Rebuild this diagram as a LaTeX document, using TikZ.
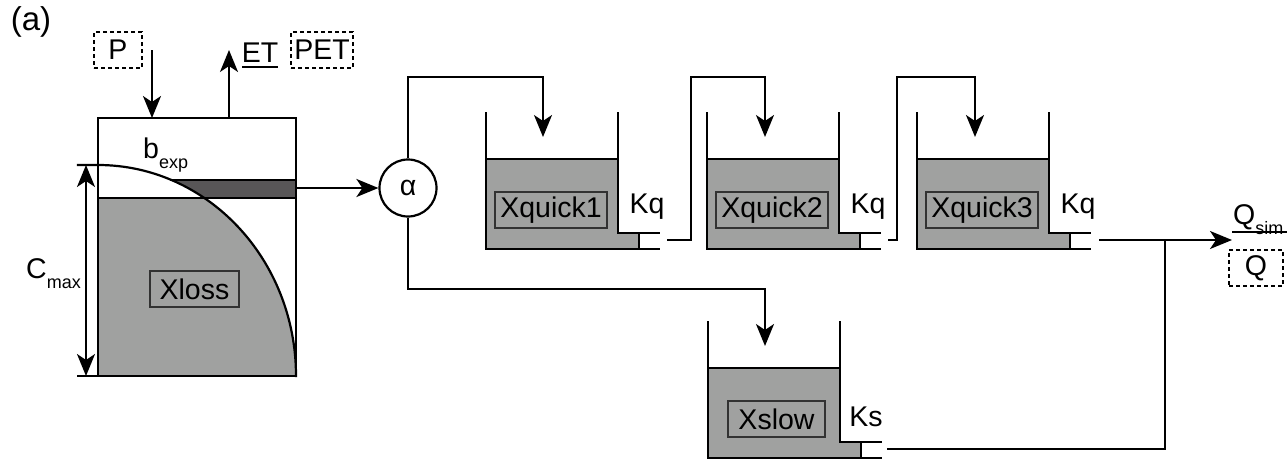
\documentclass[tikz,border=0pt]{standalone}
\usepackage{fontspec}
\setmainfont{Liberation Sans}
\usetikzlibrary{arrows.meta}
\definecolor{fillgrey}{RGB}{160,161,160}
\definecolor{bargrey}{RGB}{88,86,87}
\definecolor{boxline}{RGB}{50,50,50}
\newcommand{\bigtxt}{\fontsize{28.5}{31}\selectfont}
\newcommand{\subtxt}{\fontsize{18}{19}\selectfont}
\tikzset{
  ln/.style={line width=2.2pt, line cap=rect},
  arr/.style={line width=2.2pt, -{Stealth[length=22pt,width=18pt,inset=6pt]}},
  dblarr/.style={line width=2.2pt, {Stealth[length=22pt,width=18pt,inset=6pt]}-{Stealth[length=22pt,width=18pt,inset=6pt]}},
  lbl/.style={font=\bigtxt, inner sep=0pt},
  statebox/.style={draw=boxline, line width=2.2pt, font=\bigtxt, inner sep=0pt, minimum height=36pt},
  dbox/.style={draw, line width=2.2pt, dash pattern=on 4pt off 3pt, font=\bigtxt, inner sep=0pt, minimum height=36pt},
  tank/.pic={
    \fill[fillgrey] (0,46) rectangle (132,136);
    \fill[fillgrey] (132,120) rectangle (153,136);
    \draw[ln] (0,0) -- (0,136) -- (173,136);
    \draw[ln] (132,0) -- (132,120) -- (173,120);
    \draw[ln] (153,120) -- (153,136);
    \draw[ln] (0,46) -- (132,46);
  }
}
\begin{document}
\begin{tikzpicture}[x=1pt,y=-1pt]
\useasboundingbox (0,0) rectangle (1287,458);
% label
\node[font=\fontsize{33}{35}\selectfont, inner sep=0pt] (lab) at (31,22) {(a)};
% ---- soil store ----
\begin{scope}
  \clip (98,198) rectangle (296,376);
  \fill[fillgrey] (98,376) -- (98,165) arc[start angle=90, end angle=0, x radius=198pt, y radius=211pt] -- cycle;
\end{scope}
\begin{scope}
  \clip (98,180) rectangle (296,198);
  \fill[bargrey] (98,165) arc[start angle=90, end angle=0, x radius=198pt, y radius=211pt] -- (296,165) -- cycle;
\end{scope}
\node[draw, line width=2.2pt, minimum width=198pt, minimum height=258pt, inner sep=0pt] (store) at (197,247) {};
\draw[ln] (78,165) -- (98,165) arc[start angle=90, end angle=0, x radius=198pt, y radius=211pt];
\draw[ln] (78,376) -- (296,376);
\draw[ln] (98,198) -- (296,198);
\draw[ln] (171.3,180) -- (296,180);
\coordinate (cmaxtop) at (86,165);
\coordinate (cmaxbot) at (86,376);
\draw[dblarr] (cmaxtop) -- (cmaxbot);
\node[lbl, anchor=base east] (cmax) at (81,278) {C\raisebox{-10pt}{\subtxt max}};
\node[lbl, anchor=base west] (bexp) at (143,158) {b\raisebox{-10pt}{\subtxt exp}};
\node[statebox, minimum width=89pt] (xloss) at (194.5,289) {Xloss};
% inputs
\node[dbox, minimum width=48pt] (P) at (118,50) {P};
\coordinate (Pin) at (152,118);
\draw[arr] (152,50) -- (Pin);
\coordinate (ETout) at (229,118);
\coordinate (ETtip) at (229,50);
\draw[arr] (ETout) -- (ETtip);
\node[lbl] (ET) at (260,53) {ET};
\draw[ln, line cap=butt] (242,67) -- (278,67);
\node[dbox, minimum width=62pt] (PET) at (322,50) {PET};
% alpha
\node[draw, circle, line width=2.2pt, minimum size=57pt, inner sep=0pt, font=\bigtxt] (alpha) at (408,188) {α};
\coordinate (barR) at (296,188);
\draw[arr] (barR) -- (alpha.west);
% tanks
\pic (t1) at (486,113) {tank};
\pic (t2) at (707,113) {tank};
\pic (t3) at (917,113) {tank};
\pic (ts) at (708,322) {tank};
\node[statebox, minimum width=112pt] (xq1) at (551,210) {Xquick1};
\node[statebox, minimum width=112pt] (xq2) at (772,210) {Xquick2};
\node[statebox, minimum width=112pt] (xq3) at (982,210) {Xquick3};
\node[statebox, minimum width=97pt] (xs) at (776.5,419) {Xslow};
\node[lbl] (kq1) at (647,207) {Kq};
\node[lbl] (kq2) at (868,207) {Kq};
\node[lbl] (kq3) at (1078,207) {Kq};
\node[lbl] (ks) at (866,417) {Ks};
% connectors
\coordinate (in1) at (543,137);
\coordinate (in2) at (765,137);
\coordinate (in3) at (975,137);
\coordinate (ins) at (765,346);
\coordinate (out1) at (667,240);
\coordinate (out2) at (888,240);
\coordinate (out3) at (1099,240);
\coordinate (outs) at (888,449);
\coordinate (junc) at (1165,240);
\coordinate (qtip) at (1232,240);
\draw[arr] (alpha.north) |- (543,77) -- (in1);
\draw[arr] (alpha.south) |- (765,289) -- (ins);
\draw[arr] (out1) -| (691,77) -| (in2);
\draw[arr] (out2) -| (897,77) -| (in3);
\draw[arr] (out3) -- (qtip);
\draw[ln] (outs) -| (junc);
% output
\node[lbl, anchor=base west] (qsim) at (1233,224) {Q\raisebox{-10pt}{\subtxt sim}};
\draw[ln, line cap=butt] (1232,232) -- (1287,232);
\node[dbox, minimum width=54pt] (Q) at (1256,268) {Q};
\end{tikzpicture}
\end{document}
